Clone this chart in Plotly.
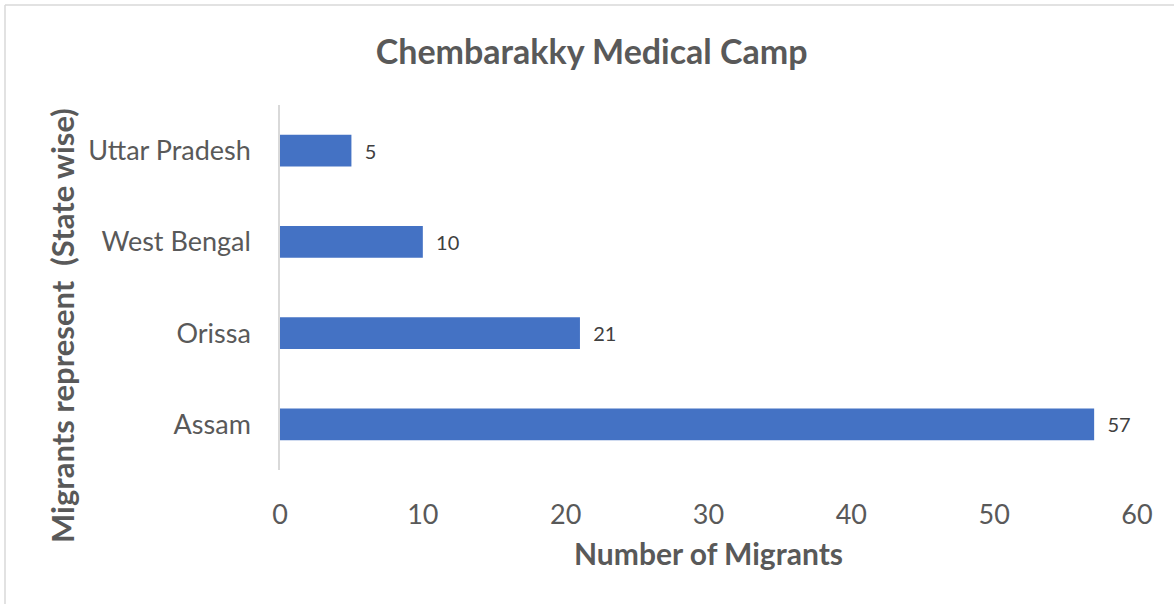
import plotly.graph_objects as go

states = ["Assam", "Orissa", "West Bengal", "Uttar Pradesh"]
migrants = [57, 21, 10, 5]
x_ticks = [0, 10, 20, 30, 40, 50, 60]

W, H = 1174, 604
L, R, T, B = 280, 37, 105, 134
pw, ph = W - L - R, H - T - B

def px(x):
    return (x - L) / pw

def py(y):
    return 1 - (y - T) / ph

FONT = "Lato"
NB = "\u00a0"

fig = go.Figure()
fig.add_trace(go.Bar(
    x=migrants, y=states, orientation="h",
    marker=dict(color="#4472C4", line=dict(width=0)),
    text=[NB * 2 + str(v) for v in migrants], textposition="outside",
    textfont=dict(family=FONT, size=20, color="#404040"),
    cliponaxis=False,
))

fig.update_layout(
    width=W, height=H,
    margin=dict(l=L, r=R, t=T, b=B, autoexpand=False),
    paper_bgcolor="white", plot_bgcolor="white",
    bargap=0.65,
    showlegend=False,
    title=dict(text="<b>Chembarakky Medical Camp</b>", x=0.504, xanchor="center",
               y=1 - 52 / H, yanchor="middle",
               font=dict(family=FONT, size=34, color="#595959")),
    xaxis=dict(range=[0, 60], tickvals=x_ticks, showgrid=False, zeroline=False,
               showline=False, ticks="", ticklabelstandoff=26, automargin=False,
               tickfont=dict(family=FONT, size=27, color="#595959"),
               title=dict(text="<b>Number of Migrants</b>", standoff=14,
                          font=dict(family=FONT, size=30, color="#595959"))),
    yaxis=dict(showgrid=False, zeroline=False, showline=True, linecolor="#D9D9D9",
               linewidth=1.5, ticks="", ticklabelstandoff=22, automargin=False,
               tickfont=dict(family=FONT, size=27, color="#595959")),
    annotations=[
        dict(text="<b>Migrants represent  (State wise)</b>", xref="paper", yref="paper",
             x=px(62), y=py(325), xanchor="center", yanchor="middle", textangle=-90,
             showarrow=False, font=dict(family=FONT, size=31, color="#595959")),
    ],
    shapes=[
        dict(type="line", xref="paper", yref="paper", x0=px(5), x1=px(1174), y0=py(5), y1=py(5),
             line=dict(color="#D9D9D9", width=1.5)),
        dict(type="line", xref="paper", yref="paper", x0=px(5), x1=px(5), y0=py(5), y1=py(604),
             line=dict(color="#D9D9D9", width=1.5)),
    ],
)

fig.write_html("out.html", config={"displayModeBar": False},
               post_script="document.body.style.margin='0';")
